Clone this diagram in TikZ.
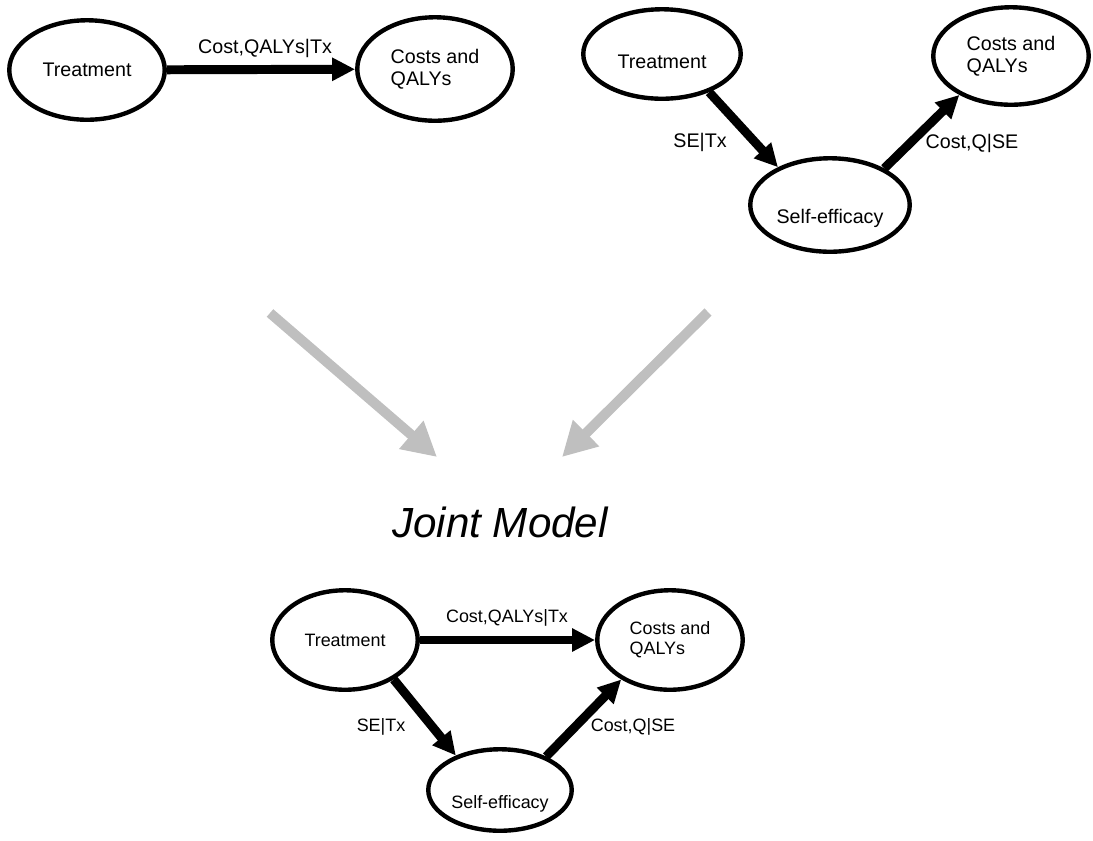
\documentclass[tikz,border=0pt]{standalone}
\usepackage{fontspec}
\setmainfont{Liberation Sans}
\usetikzlibrary{shapes.geometric,arrows.meta}

\tikzset{
  blob/.style={ellipse, draw, line width=2.5pt, inner sep=0pt, align=left,
    minimum width=3.11cm, minimum height=1.95cm},
  link/.style={line width=5.1pt, -{Triangle[length=0.46cm,width=0.44cm]}},
  merge/.style={line width=5.7pt, lightgray, -{Triangle[length=0.68cm,width=0.7cm]}},
}

\begin{document}
\begin{tikzpicture}[x=0.02cm,y=-0.02cm, every node/.style={font=\fontsize{11.2}{12.5}\selectfont}]
\useasboundingbox (0,0) rectangle (1093,840);
% treatment acts directly
\node[blob, minimum height=1.99cm] (tx1) at (87,70) {Treatment};
\node[blob, minimum height=2.07cm] (cq1) at (435,69) {Costs and\\QALYs};
\draw[link] (tx1) -- (cq1);
\node (l1) at (265,48) {Cost,QALYs|Tx};
% treatment acts through self-efficacy
\node[blob, minimum width=3.15cm, minimum height=1.79cm, text height=0.6cm] (tx2) at (662,54) {Treatment};
\node[blob, minimum width=3.19cm, minimum height=1.87cm, text height=0.84cm] (se2) at (830,205) {Self-efficacy};
\node[blob] (cq2) at (1011,56) {Costs and\\QALYs};
\draw[link] (tx2.-39) -- (se2.144);
\draw[link] (se2.34) -- (cq2.217);
\node (l2) at (700,142) {SE|Tx};
\node (l3) at (972,143) {Cost,Q|SE};
% both feed the joint model
\coordinate (m1a) at (270,313);
\coordinate (m1b) at (437,457);
\coordinate (m2a) at (708,312);
\coordinate (m2b) at (562,457);
\draw[merge] (m1a) -- (m1b);
\draw[merge] (m2a) -- (m2b);
\node[font=\fontsize{24}{28}\selectfont\itshape] (jm) at (500,522) {Joint Model};
% joint model
\begin{scope}[every node/.style={font=\fontsize{10.2}{11.5}\selectfont}]
\node[blob, minimum width=2.91cm, minimum height=1.99cm] (tx3) at (345,640) {Treatment};
\node[blob, minimum width=2.91cm, minimum height=1.99cm] (cq3) at (670,640) {Costs and\\QALYs};
\node[blob, minimum width=2.87cm, minimum height=1.63cm, text height=0.8cm] (se3) at (500,790) {Self-efficacy};
\draw[link] (tx3) -- (cq3);
\draw[link] (tx3.-39) -- (se3.142);
\draw[link] (se3.36) -- (cq3.219);
\node (l4) at (507,618) {Cost,QALYs|Tx};
\node (l5) at (381,727) {SE|Tx};
\node (l6) at (633,727) {Cost,Q|SE};
\end{scope}
\end{tikzpicture}
\end{document}
